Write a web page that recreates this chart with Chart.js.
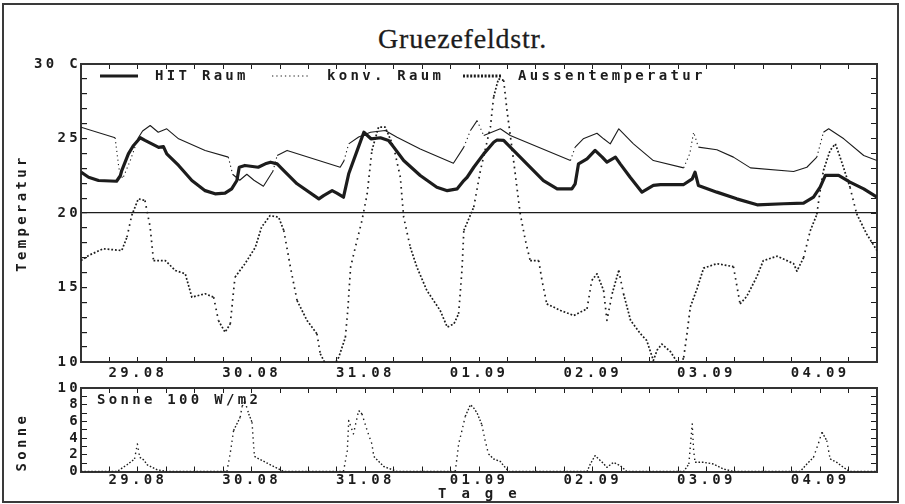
<!DOCTYPE html>
<html>
<head>
<meta charset="utf-8">
<script src="https://cdn.jsdelivr.net/npm/chart.js@4/dist/chart.umd.min.js"></script>
<style>
  html, body { margin: 0; padding: 0; background: #fff; }
  #page { position: relative; width: 905px; height: 504px; overflow: hidden; }
  #frame { position: absolute; left: 2px; top: 3px; width: 897px; height: 500px; box-sizing: border-box; border: 2px solid #3a3a3a; }
  #title { position: absolute; left: 10px; top: 25px; width: 905px; text-align: center; font: 28px/28px "Liberation Serif", "DejaVu Serif", serif; letter-spacing: 0.8px; color: #1c1c1c; -webkit-text-stroke: 0.3px #1c1c1c; }
  #tempCanvas { position: absolute; left: 0; top: 0; }
  #sunCanvas { position: absolute; left: 0; top: 380px; }
</style>
</head>
<body>
<div id="page">
  <div id="frame"></div>
  <div id="title">Gruezefeldstr.</div>
  <canvas id="tempCanvas" width="905" height="380"></canvas>
  <canvas id="sunCanvas" width="905" height="124"></canvas>
</div>
<script>
// x axis: hours since the start of the record, one label per day
const dayLabels = ['29.08', '30.08', '31.08', '01.09', '02.09', '03.09', '04.09'];
const dayLabelHours = [12, 36, 60, 84, 108, 132, 156];

const tempTickValues = [10, 15, 20, 25, 30];
const tempTickLabels = ['10', '15', '20', '25', '30 C'];
const sunTickValues = [0, 2, 4, 6, 8, 10];
const sunTickLabels = ['0', '2', '4', '6', '8', '10'];

// HIT Raum
const hitHours = [0, 1.6, 3.7, 7.5, 8.3, 8.6, 10, 11, 12.5, 13.5, 16.4, 17.4, 18.1, 20.6, 23.4, 26.2, 28.3, 30.4, 31.8, 32.9,
  33.4, 34.6, 37.4, 38.9, 40, 41.4, 42.8, 45.6, 50.2, 51.2, 53, 54, 55.4, 56.5, 58.3, 59.7, 61.2, 63.2, 64.9, 66,
  68.1, 71.6, 75.1, 77.3, 79.4, 80.8, 81.5, 82.9, 85, 87.1, 87.8, 89.2, 90.6, 94.1, 97.6, 100.5, 103.6, 104.3, 105, 106.8,
  108.5, 110, 111, 112.8, 113.8, 115.9, 118.4, 120.8, 122.3, 127.2, 129, 129.6, 130.3, 134.2, 138.4, 142.7, 148.3, 152.5, 154.6, 156,
  157.1, 159.9, 162.3, 165.2, 168];
const hitTemp = [22.74, 22.4, 22.18, 22.13, 22.5, 22.85, 23.97, 24.5, 25.05, 24.87, 24.4, 24.46, 23.97, 23.19, 22.18, 21.5, 21.29, 21.33, 21.62, 22.18,
  23.07, 23.19, 23.07, 23.3, 23.41, 23.3, 22.85, 21.96, 20.95, 21.17, 21.5, 21.33, 21.06, 22.63, 24.2, 25.42, 24.98, 25.05, 24.87, 24.42,
  23.52, 22.52, 21.73, 21.5, 21.62, 22.18, 22.4, 23.07, 23.97, 24.75, 24.9, 24.87, 24.42, 23.3, 22.18, 21.62, 21.62, 21.96, 23.3, 23.64,
  24.2, 23.75, 23.41, 23.75, 23.3, 22.4, 21.4, 21.85, 21.9, 21.91, 22.29, 22.74, 21.85, 21.4, 20.95, 20.55, 20.62, 20.66, 21.06, 21.73,
  22.52, 22.52, 22.07, 21.62, 21.06];

// konv. Raum
const konvHours = [0, 7.2, 8, 8.8, 10.5, 12, 13, 14.6, 16.3, 18.1, 20.6, 26.2, 31.1, 32, 33.5, 35, 36.5, 38.5, 40.5, 41.4,
  43.5, 54.7, 55.5, 56.5, 58.6, 61.1, 64.2, 66.7, 71.6, 78.6, 80.8, 82.2, 83.6, 85, 88.5, 90.6, 103.3, 104.3, 106, 108.9,
  110.3, 111.7, 113.5, 116.6, 120.8, 127.2, 128.5, 129.3, 130.3, 134.2, 137.7, 141.3, 150.4, 153.2, 155.3, 156.7, 157.8, 161, 165.2, 168];
const konvTemp = [25.76, 25.05, 23.0, 22.3, 23.6, 25.0, 25.5, 25.87, 25.42, 25.65, 24.98, 24.2, 23.75, 22.6, 22.2, 22.6, 22.2, 21.8, 22.8, 23.86,
  24.2, 23.07, 23.5, 24.64, 25.1, 25.42, 25.54, 25.09, 24.3, 23.34, 24.42, 25.54, 26.2, 25.2, 25.65, 25.2, 23.52, 24.42, 24.98, 25.35,
  24.98, 24.64, 25.65, 24.64, 23.52, 23.03, 24.0, 25.42, 24.42, 24.24, 23.75, 23.03, 22.79, 23.07, 23.75, 25.42, 25.65, 24.98, 23.86, 23.52];

// Aussentemperatur
const aussenHours = [0, 1.6, 4.7, 8.6, 9.7, 10.7, 12.1, 13.5, 14.6, 15.3, 17.8, 19.9, 22, 23.4, 26.2, 28, 29, 30.4, 31.5, 32.5,
  34.6, 36.8, 38.1, 39.9, 41.7, 42.8, 44.2, 45.6, 47.7, 49.8, 50.5, 52.5, 54.4, 55.8, 56.3, 56.9, 57.9, 59.3, 60.4, 61.4,
  62.8, 64.2, 66, 67.4, 68.1, 69.5, 70.9, 73, 75.8, 77.3, 78.7, 79.7, 80.4, 80.8, 82.9, 84.3, 86.4, 87.1, 88.1, 89.2,
  89.9, 91.3, 92.7, 93.8, 94.8, 96.6, 97.3, 98.3, 101.2, 104, 106.8, 107.8, 108.9, 110.3, 111, 112.1, 113.5, 114.5, 116, 118.1,
  119.4, 120.8, 121.6, 122.6, 124.4, 125.8, 126.5, 127.2, 127.9, 128.6, 130, 131.4, 134.2, 137.7, 139.1, 140.5, 142.6, 144, 146.9, 150.4,
  151.1, 152.5, 153.9, 155.3, 156, 156.7, 158.1, 159.2, 160.2, 162.3, 163.7, 165.8, 168];
const aussenTemp = [16.81, 17.15, 17.6, 17.48, 18.38, 19.83, 20.95, 20.84, 19.05, 16.81, 16.81, 16.14, 15.92, 14.35, 14.58, 14.35, 12.79, 12.0, 12.56, 15.69,
  16.59, 17.7, 19.05, 19.83, 19.72, 18.83, 16.36, 14.13, 12.79, 11.89, 10.55, 9.3, 10.32, 11.66, 13.46, 16.36, 17.7, 19.5, 21.29, 24.2,
  25.76, 25.76, 24.42, 22.4, 19.72, 17.7, 16.36, 14.8, 13.46, 12.34, 12.56, 13.24, 16.14, 18.83, 20.4, 22.85, 25.76, 27.8, 29.0, 28.9,
  26.9, 23.52, 19.95, 18.15, 16.81, 16.81, 15.47, 13.9, 13.46, 13.12, 13.57, 15.47, 15.92, 14.8, 12.79, 14.58, 16.14, 14.58, 12.79, 11.89,
  11.44, 10.1, 10.8, 11.2, 10.7, 10.0, 9.7, 10.3, 11.9, 13.7, 14.9, 16.3, 16.6, 16.4, 13.9, 14.4, 15.7, 16.8, 17.1, 16.6,
  16.1, 17.0, 18.8, 19.9, 21.5, 22.85, 24.2, 24.64, 23.75, 21.73, 19.95, 18.6, 17.48];

// Sonne, 100 W/m2
const sunHours = [0, 7.6, 9.7, 11.3, 11.9, 12.4, 13.2, 14, 16.1, 18.2, 30.8, 31.5, 32.2, 33.6, 34, 34.6, 35.4, 36.1, 36.6, 39.3,
  42.8, 55.4, 56.2, 56.5, 57.5, 58.6, 59.3, 60.4, 61.4, 61.8, 63.9, 66.7, 79, 79.7, 80.4, 81.1, 82.2, 82.9, 83.6, 84.6,
  85.3, 86, 87.1, 88.5, 89.2, 90.3, 106.8, 107.5, 108.5, 110, 111, 112.4, 113.8, 115.2, 127.2, 128.3, 129, 129.3, 129.6, 131.4,
  133.5, 135.6, 137.7, 151.8, 153.2, 154.6, 155.6, 156.4, 157.4, 158.1, 159.5, 160.9, 162.3, 168];
const sunValue = [0, 0, 0.8, 1.5, 3.3, 1.7, 1.4, 0.8, 0.2, 0, 0, 2.2, 4.9, 6.5, 7.8, 8.4, 6.9, 5.9, 1.8, 1.0,
  0, 0, 2.5, 6.1, 4.5, 7.3, 6.9, 4.9, 3.3, 1.8, 0.6, 0, 0, 3.3, 4.9, 6.6, 8.0, 7.6, 7.0, 5.6,
  3.7, 2.1, 1.5, 1.2, 0.7, 0, 0, 0.9, 1.9, 1.1, 0.5, 1.1, 0.7, 0, 0, 0.9, 5.7, 2.5, 1.1, 1.1,
  0.9, 0.3, 0, 0, 0.9, 1.7, 3.3, 4.7, 3.7, 1.5, 1.1, 0.5, 0, 0];

const INK = '#1c1c1c';
const FRAME = '#333';
const MONO = '"DejaVu Sans Mono", "Liberation Mono", monospace';
const SPACING = '3.3px';
const tickFont = { family: MONO, size: 14, weight: 'bold' };

function pairs(xs, ys) {
  return xs.map((x, i) => ({ x: x, y: ys[i] }));
}

function dayTick(v) {
  const i = dayLabelHours.indexOf(v);
  return i >= 0 ? dayLabels[i] : '';
}

function labelFrom(values, labels) {
  return v => {
    const i = values.indexOf(v);
    return i >= 0 ? labels[i] : '';
  };
}

// the logger plotted single dots, so fast changes come out sparse
function slope(ctx) {
  const dx = ctx.p1.parsed.x - ctx.p0.parsed.x;
  return dx ? Math.abs((ctx.p1.parsed.y - ctx.p0.parsed.y) / dx) : 99;
}

// plotter-like wide type for all canvas text
const wideType = {
  id: 'wideType',
  beforeUpdate(chart) { chart.ctx.letterSpacing = SPACING; },
  beforeDraw(chart) { chart.ctx.letterSpacing = SPACING; }
};

// legend written inside the plot area, like the original
const inPlotLegend = {
  id: 'inPlotLegend',
  afterDraw(chart, args, opts) {
    const ctx = chart.ctx;
    ctx.save();
    ctx.letterSpacing = SPACING;
    ctx.font = 'bold 14px ' + MONO;
    ctx.fillStyle = INK;
    ctx.textBaseline = 'middle';
    chart.data.datasets.forEach((ds, i) => {
      const x = opts.starts[i];
      if (x === undefined) return;
      let tx = x;
      if (opts.sampleWidth) {
        ctx.beginPath();
        ctx.lineWidth = ds.legendWidth || ds.borderWidth;
        ctx.setLineDash(ds.legendDash || ds.borderDash || []);
        ctx.strokeStyle = ds.borderColor;
        ctx.moveTo(x, opts.y);
        ctx.lineTo(x + opts.sampleWidth, opts.y);
        ctx.stroke();
        tx = x + opts.sampleWidth + opts.gap;
      }
      ctx.fillText(ds.label, tx, opts.y);
    });
    ctx.restore();
  }
};

function frameAxis(position, min, max, step) {
  const horizontal = position === 'top' || position === 'bottom';
  return {
    type: 'linear',
    position: position,
    min: min,
    max: max,
    ticks: { display: false, stepSize: step, autoSkip: false, maxRotation: 0 },
    grid: { drawOnChartArea: false, tickLength: horizontal ? -5 : -6, color: INK, tickColor: INK, lineWidth: 1 },
    border: { color: FRAME, width: 2 },
    afterFit(scale) {
      if (horizontal) scale.height = 0; else scale.width = 0;
      scale.paddingTop = scale.paddingBottom = scale.paddingLeft = scale.paddingRight = 0;
    }
  };
}

function fixedWidth(w) {
  return scale => {
    scale.width = w;
    scale.paddingTop = 0;
    scale.paddingBottom = 0;
  };
}

function fixedHeight(h) {
  return scale => {
    scale.height = h;
    scale.paddingLeft = 0;
    scale.paddingRight = 0;
  };
}

Chart.defaults.font.family = MONO;
Chart.defaults.color = INK;

new Chart(document.getElementById('tempCanvas'), {
  type: 'line',
  data: {
    datasets: [
      {
        label: 'HIT Raum',
        data: pairs(hitHours, hitTemp),
        borderColor: INK,
        borderWidth: 3.2,
        pointRadius: 0
      },
      {
        label: 'konv. Raum',
        data: pairs(konvHours, konvTemp),
        borderColor: INK,
        borderWidth: 1.1,
        pointRadius: 0,
        segment: { borderDash: c => (slope(c) > 0.7 ? [1.2, 3.2] : undefined) },
        legendDash: [1.3, 3]
      },
      {
        label: 'Aussentemperatur',
        data: pairs(aussenHours, aussenTemp),
        borderColor: INK,
        borderWidth: 1.7,
        borderDash: [1.8, 1.9],
        pointRadius: 0,
        segment: { borderDash: c => (slope(c) > 1.2 ? [1.6, 4.2] : undefined) },
        legendWidth: 3,
        legendDash: [2, 1.6]
      }
    ]
  },
  options: {
    responsive: false,
    animation: false,
    layout: { padding: { left: 0, right: 28, top: 64, bottom: 0 } },
    plugins: {
      legend: { display: false },
      tooltip: { enabled: false },
      inPlotLegend: { starts: [100, 272, 463], y: 76, sampleWidth: 38, gap: 17 }
    },
    elements: { line: { tension: 0, borderJoinStyle: 'round' } },
    scales: {
      x: {
        type: 'linear',
        position: 'bottom',
        min: 0,
        max: 168,
        ticks: { stepSize: 6, autoSkip: false, maxRotation: 0, padding: 7.5, font: tickFont, color: INK, callback: dayTick },
        grid: { drawOnChartArea: false, tickLength: -5, color: INK, tickColor: INK, lineWidth: 1 },
        border: { color: FRAME, width: 2 },
        afterFit: fixedHeight(18)
      },
      xTop: frameAxis('top', 0, 168, 6),
      y: {
        type: 'linear',
        position: 'left',
        min: 10,
        max: 30,
        ticks: { stepSize: 1, autoSkip: false, padding: 6, font: tickFont, color: INK, callback: labelFrom(tempTickValues, tempTickLabels) },
        grid: {
          drawOnChartArea: true,
          tickLength: -6,
          color: c => (c.tick && c.tick.value === 20 ? INK : 'rgba(0,0,0,0)'),
          tickColor: INK,
          lineWidth: 1.2
        },
        border: { color: FRAME, width: 2 },
        title: { display: true, text: 'Temperatur', font: tickFont, color: INK, padding: { top: 14, bottom: 0 } },
        afterFit: fixedWidth(81)
      },
      yRight: frameAxis('right', 10, 30, 1)
    }
  },
  plugins: [wideType, inPlotLegend]
});

new Chart(document.getElementById('sunCanvas'), {
  type: 'line',
  data: {
    datasets: [
      {
        label: 'Sonne 100 W/m2',
        data: pairs(sunHours, sunValue),
        borderColor: INK,
        borderWidth: 1.4,
        borderDash: [1.6, 1.8],
        pointRadius: 0,
        segment: { borderDash: c => (slope(c) > 1.5 ? [1.4, 3.6] : undefined) }
      }
    ]
  },
  options: {
    responsive: false,
    animation: false,
    layout: { padding: { left: 0, right: 28, top: 8, bottom: 0 } },
    plugins: {
      legend: { display: false },
      tooltip: { enabled: false },
      inPlotLegend: { starts: [97], y: 20, sampleWidth: 0, gap: 0 }
    },
    elements: { line: { tension: 0, borderJoinStyle: 'round' } },
    scales: {
      x: {
        type: 'linear',
        position: 'bottom',
        min: 0,
        max: 168,
        ticks: { stepSize: 6, autoSkip: false, maxRotation: 0, padding: 5, font: tickFont, color: INK, callback: dayTick },
        grid: { drawOnChartArea: false, tickLength: -5, color: INK, tickColor: INK, lineWidth: 1 },
        border: { color: FRAME, width: 2 },
        title: { display: true, text: 'T a g e', font: tickFont, color: INK, padding: { top: 0, bottom: 1 } },
        afterFit: fixedHeight(32.5)
      },
      xTop: frameAxis('top', 0, 168, 6),
      y: {
        type: 'linear',
        position: 'left',
        min: 0,
        max: 10,
        ticks: { stepSize: 1, autoSkip: false, padding: 6, font: tickFont, color: INK, callback: labelFrom(sunTickValues, sunTickLabels) },
        grid: { drawOnChartArea: false, tickLength: -6, color: INK, tickColor: INK, lineWidth: 1 },
        border: { color: FRAME, width: 2 },
        title: { display: true, text: 'Sonne', align: 'start', font: tickFont, color: INK, padding: { top: 14, bottom: 0 } },
        afterFit: fixedWidth(81)
      },
      yRight: frameAxis('right', 0, 10, 1)
    }
  },
  plugins: [wideType, inPlotLegend]
});
</script>
</body>
</html>
